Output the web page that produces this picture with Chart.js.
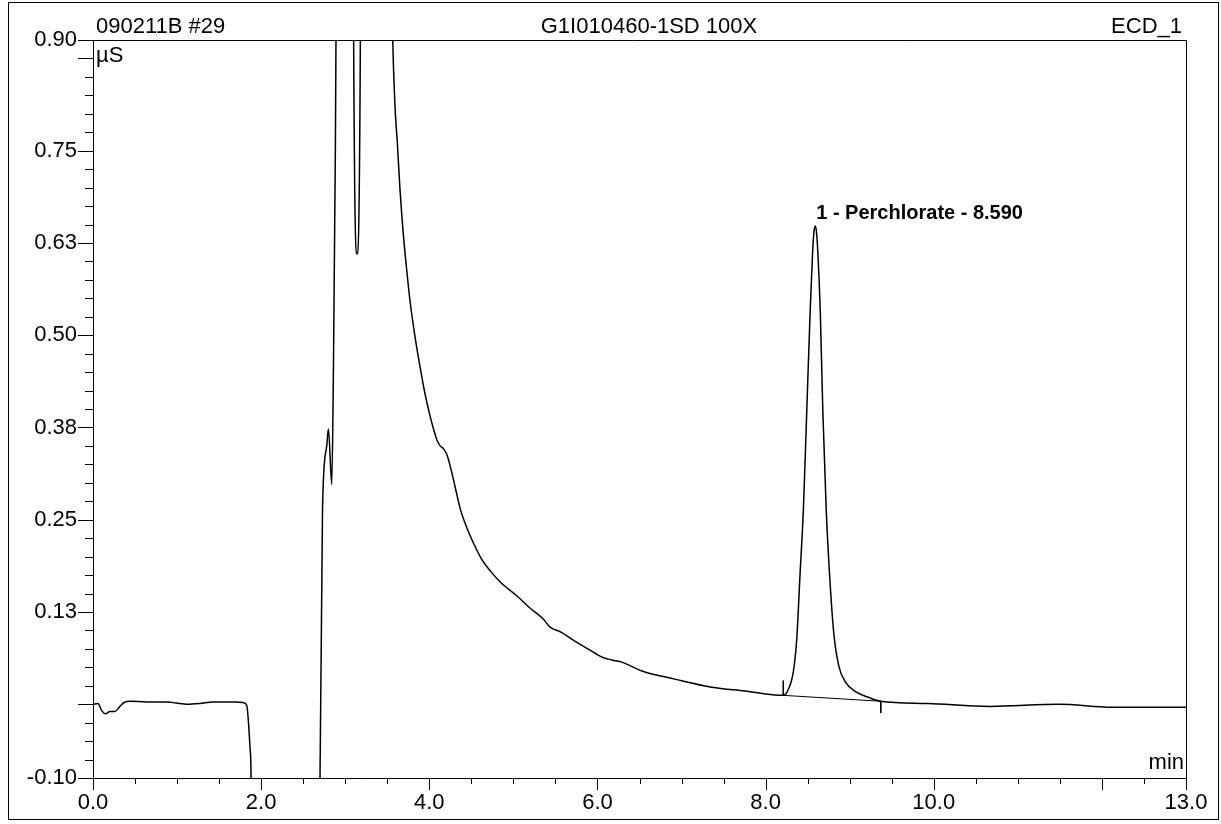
<!DOCTYPE html>
<html lang="en">
<head>
    <meta charset="UTF-8">
    <title>090211B #29 - ECD_1</title>
    <script src="https://cdn.jsdelivr.net/npm/chart.js@4.4.1/dist/chart.umd.min.js"></script>
    <style>
        body { margin: 0; background: #fff; }
        canvas { display: block; }
    </style>
</head>
<body>
<canvas id="myChart" width="1221" height="824"></canvas>
<script>
// retention time (min) and conductivity (µS)
const tiempo = [0.00, 0.06, 0.10, 0.15, 0.20, 0.26, 0.32, 0.38, 0.44, 0.64, 0.87, 1.11, 1.27, 1.43, 1.71, 1.79,
    1.83, 1.85, 1.87, 1.88, 1.89, 2.69, 2.70, 2.73, 2.78, 2.80, 2.84, 2.86, 2.88, 2.89, 2.90, 3.09, 3.10, 3.14,
    3.18, 3.19, 3.50, 3.535, 3.565, 3.59, 3.62, 3.65, 3.69, 3.73, 3.77, 3.83, 3.89, 3.95, 4.01, 4.05, 4.09, 4.13, 4.17,
    4.21, 4.25, 4.31, 4.37, 4.45, 4.53, 4.62, 4.73, 4.85, 5.05, 5.20, 5.35, 5.44, 5.56, 5.75, 5.90, 6.05, 6.17,
    6.29, 6.53, 6.92, 7.36, 7.75, 8.21, 8.27, 8.33, 8.37, 8.41, 8.45, 8.49, 8.53, 8.56, 8.575, 8.59, 8.605, 8.62,
    8.65, 8.68, 8.72, 8.76, 8.81, 8.87, 8.95, 9.07, 9.23, 9.37, 9.93, 10.67, 11.49, 12.12, 13.00];
const senal = [0.000, 0.001, -0.008, -0.013, -0.010, -0.010, -0.003, 0.003, 0.004, 0.003, 0.003, 0.000, 0.001, 0.003, 0.003, 0.002,
    -0.002, -0.026, -0.063, -0.100, -0.400, -0.400, -0.100, 0.266, 0.350, 0.373, 0.298, 0.459, 0.717, 0.900, 1.500, 1.500, 0.900, 0.610,
    0.900, 1.500, 1.500, 1.100, 0.900, 0.815, 0.760, 0.700, 0.638, 0.590, 0.547, 0.498, 0.457, 0.420, 0.390, 0.373, 0.358, 0.350, 0.346,
    0.338, 0.322, 0.293, 0.264, 0.238, 0.217, 0.197, 0.180, 0.165, 0.146, 0.130, 0.116, 0.104, 0.098, 0.084, 0.074, 0.064, 0.060,
    0.057, 0.045, 0.034, 0.023, 0.018, 0.012, 0.020, 0.044, 0.088, 0.177, 0.266, 0.399, 0.533, 0.615, 0.640, 0.648, 0.640, 0.615,
    0.533, 0.399, 0.266, 0.177, 0.097, 0.052, 0.030, 0.017, 0.009, 0.004, 0.001, -0.003, 0.000, -0.004, -0.004];

// integration baseline of the perchlorate peak (start / end markers)
const baseX = [8.21, 8.21, null, 8.21, 9.37, null, 9.37, 9.37];
const baseY = [0.032, 0.012, null, 0.012, 0.004, null, 0.004, -0.012];

const xTicks = [0, 2, 4, 6, 8, 10, 13];
const xLabels = ['0.0', '2.0', '4.0', '6.0', '8.0', '10.0', '13.0'];
const yTicks = [-0.1, 0.125, 0.25, 0.375, 0.5, 0.625, 0.75, 0.9];
const yLabels = ['-0.10', '0.13', '0.25', '0.38', '0.50', '0.63', '0.75', '0.90'];

const peakName = '1 - Perchlorate - 8.590';
const peakTime = 8.59;
const peakHeight = 0.648;

const FONT = '"Liberation Sans", Arial, sans-serif';

const dibujo = {
    id: 'dibujo',
    afterDraw(chart) {
        const ctx = chart.ctx;
        const xs = chart.scales.x;
        const ys = chart.scales.y;
        const a = chart.chartArea;
        ctx.save();
        ctx.strokeStyle = '#000';
        ctx.fillStyle = '#000';
        ctx.lineWidth = 1;

        // outer frame of the page
        ctx.strokeRect(8.5, 2.5, 1210, 817);

        // plot box
        ctx.beginPath();
        ctx.moveTo(a.left + 0.5, a.top);
        ctx.lineTo(a.left + 0.5, a.bottom + 0.5);
        ctx.lineTo(a.right + 0.5, a.bottom + 0.5);
        ctx.lineTo(a.right + 0.5, a.top + 0.5);
        ctx.lineTo(a.left - 14, a.top + 0.5);
        ctx.stroke();

        // x ticks every 0.5 min, long every 2 min and at the end
        ctx.beginPath();
        for (let i = 0; i <= 26; i++) {
            const v = i / 2;
            const px = Math.round(xs.getPixelForValue(v)) + 0.5;
            const largo = (i % 4 === 0 || i === 26) ? 12 : 6;
            ctx.moveTo(px, a.bottom);
            ctx.lineTo(px, a.bottom + largo);
        }
        // y ticks every 0.025, long every 0.125 and at the ends
        for (let i = -4; i <= 36; i++) {
            const v = i * 0.025;
            const py = Math.round(ys.getPixelForValue(v)) + 0.5;
            const largo = (i % 5 === 0 || i === -4 || i === 36) ? 15 : 8;
            ctx.moveTo(a.left, py);
            ctx.lineTo(a.left - largo, py);
        }
        ctx.stroke();

        // header
        ctx.font = '22px ' + FONT;
        ctx.textBaseline = 'alphabetic';
        ctx.textAlign = 'left';
        ctx.fillText('090211B #29', 96, 33);
        ctx.textAlign = 'center';
        ctx.fillText('G1I010460-1SD 100X', 649, 33);
        ctx.textAlign = 'right';
        ctx.fillText('ECD_1', 1182, 33);

        // axis units
        ctx.textAlign = 'left';
        ctx.fillText('µS', a.left + 3, a.top + 22);
        ctx.textAlign = 'right';
        ctx.fillText('min', a.right - 2, a.bottom - 9);

        // peak label
        ctx.font = 'bold 20px ' + FONT;
        ctx.textAlign = 'left';
        ctx.fillText(peakName, xs.getPixelForValue(peakTime) + 1, ys.getPixelForValue(peakHeight) - 7);
        ctx.restore();
    }
};

const ctx = document.getElementById('myChart').getContext('2d');
const myChart = new Chart(ctx, {
    type: 'line',
    data: {
        datasets: [
            {
                label: 'ECD_1',
                data: tiempo.map((t, i) => ({ x: t, y: senal[i] })),
                borderColor: '#000',
                borderWidth: 1.5,
                pointRadius: 0,
                fill: false,
                cubicInterpolationMode: 'monotone'
            },
            {
                label: 'baseline',
                data: baseX.map((t, i) => ({ x: t, y: baseY[i] })),
                borderColor: '#000',
                borderWidth: 1,
                pointRadius: 0,
                fill: false,
                spanGaps: false
            }
        ]
    },
    options: {
        responsive: false,
        animation: false,
        devicePixelRatio: 1,
        layout: { padding: { left: 0, right: 35, top: 40, bottom: 0 } },
        plugins: {
            legend: { display: false },
            title: { display: false },
            tooltip: { enabled: false }
        },
        scales: {
            x: {
                type: 'linear',
                min: 0,
                max: 13,
                grid: { display: false, drawTicks: false },
                border: { display: false },
                afterBuildTicks: s => { s.ticks = xTicks.map(v => ({ value: v })); },
                afterFit: s => { s.height = 46; },
                ticks: {
                    padding: 12,
                    maxRotation: 0,
                    autoSkip: false,
                    color: '#000',
                    font: { family: FONT, size: 22 },
                    callback: v => xLabels[xTicks.indexOf(v)]
                }
            },
            y: {
                min: -0.1,
                max: 0.9,
                grid: { display: false, drawTicks: false },
                border: { display: false },
                afterBuildTicks: s => { s.ticks = yTicks.map(v => ({ value: v })); },
                afterFit: s => { s.width = 93; },
                ticks: {
                    padding: 16,
                    autoSkip: false,
                    color: '#000',
                    font: { family: FONT, size: 22 },
                    callback: v => yLabels[yTicks.indexOf(v)]
                }
            }
        }
    },
    plugins: [dibujo]
});
</script>
</body>
</html>
